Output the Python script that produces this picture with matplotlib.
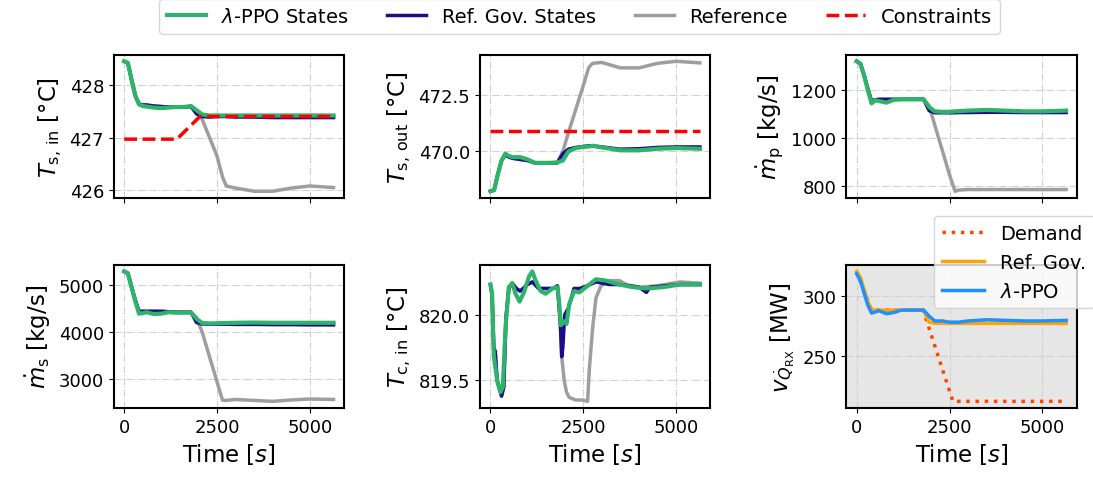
import numpy as np
import matplotlib
matplotlib.use("Agg")
import matplotlib.pyplot as plt
from matplotlib.ticker import MultipleLocator

# shared time grid for most state traces [s]
t = [0, 100, 200, 300, 400, 500, 600, 800, 1000, 1200, 1400, 1600, 1800, 1950,
     2100, 2300, 2500, 2650, 2750, 3000, 3500, 4000, 4500, 5000, 5640]

# T_s,in [C]
tsin_ppo = [428.45, 428.42, 428.1, 427.8, 427.63, 427.6, 427.59, 427.57, 427.56, 427.57, 427.58, 427.58, 427.6,
            427.52, 427.44, 427.42, 427.42, 427.42, 427.42, 427.42, 427.42, 427.42, 427.42, 427.42, 427.42]
tsin_rg = [428.45, 428.42, 428.1, 427.8, 427.64, 427.62, 427.62, 427.6, 427.59, 427.58, 427.58, 427.58, 427.59,
           427.45, 427.4, 427.39, 427.4, 427.4, 427.4, 427.39, 427.39, 427.38, 427.38, 427.38, 427.38]
tsin_ref = [428.45, 428.42, 428.1, 427.8, 427.64, 427.62, 427.62, 427.6, 427.59, 427.58, 427.58, 427.58, 427.59,
            427.5, 427.35, 427.0, 426.65, 426.25, 426.08, 426.04, 425.98, 425.98, 426.04, 426.08, 426.05]
tsin_con_t = [0, 1420, 2040, 5640]
tsin_con = [426.97, 426.97, 427.4, 427.4]

# T_s,out [C]
tsout_ppo = [468.25, 468.3, 469.0, 469.6, 469.9, 469.8, 469.75, 469.75, 469.65, 469.5, 469.5, 469.5, 469.52,
             469.6, 470.0, 470.15, 470.2, 470.22, 470.25, 470.18, 470.05, 470.05, 470.12, 470.15, 470.12]
tsout_rg = [468.25, 468.3, 469.0, 469.6, 469.85, 469.75, 469.7, 469.65, 469.6, 469.5, 469.5, 469.5, 469.5,
            469.9, 470.1, 470.18, 470.22, 470.25, 470.25, 470.2, 470.1, 470.12, 470.18, 470.2, 470.2]
tsout_ref = [468.25, 468.3, 469.0, 469.6, 469.85, 469.75, 469.7, 469.65, 469.6, 469.5, 469.5, 469.5, 469.5,
             470.0, 470.83, 471.86, 472.9, 473.7, 473.88, 473.92, 473.68, 473.68, 473.88, 473.97, 473.9]
tsout_con_t = [0, 5640]
tsout_con = [470.92, 470.92]

# m_p [kg/s]
mp_ppo = [1320, 1310, 1260, 1200, 1145, 1158, 1155, 1148, 1160, 1162, 1162, 1162, 1162,
          1130, 1112, 1110, 1110, 1112, 1113, 1115, 1118, 1115, 1112, 1112, 1115]
mp_rg = [1320, 1310, 1262, 1205, 1155, 1160, 1162, 1162, 1162, 1162, 1162, 1162, 1162,
         1115, 1106, 1106, 1106, 1106, 1107, 1107, 1108, 1108, 1107, 1107, 1107]
mp_ref = [1320, 1310, 1262, 1205, 1155, 1160, 1162, 1162, 1162, 1162, 1162, 1162, 1162,
          1134, 1056, 952, 848, 780, 785, 787, 787, 787, 787, 787, 787]

# m_s [kg/s]
ms_ppo = [5290, 5250, 4950, 4650, 4390, 4400, 4420, 4380, 4390, 4420, 4410, 4410, 4410,
          4280, 4190, 4180, 4185, 4190, 4190, 4195, 4200, 4195, 4195, 4195, 4195]
ms_rg = [5290, 5250, 4960, 4680, 4440, 4440, 4440, 4440, 4440, 4430, 4420, 4420, 4420,
         4200, 4170, 4165, 4165, 4165, 4165, 4160, 4160, 4155, 4155, 4150, 4150]
ms_ref = [5290, 5250, 4960, 4680, 4440, 4440, 4440, 4440, 4440, 4430, 4420, 4420, 4420,
          4300, 4000, 3470, 2940, 2545, 2540, 2560, 2540, 2520, 2550, 2570, 2560]

# T_c,in [C] (own time grids, more detail)
tc_t_ppo = [0, 45, 90, 180, 270, 334, 406, 496, 587, 677, 785, 903, 1038, 1128, 1218, 1354, 1489, 1670,
            1805, 1850, 1895, 1986, 2049, 2121, 2256, 2392, 2572, 2843, 3114, 3475, 3836, 4197, 4648, 5099, 5640]
tc_ppo = [820.23, 820.16, 819.69, 819.5, 819.41, 819.45, 819.9, 820.21, 820.24, 820.16, 820.1, 820.17, 820.29,
          820.33, 820.26, 820.18, 820.16, 820.2, 820.21, 820.1, 819.92, 819.95, 819.93, 820.08, 820.18, 820.17,
          820.21, 820.27, 820.26, 820.23, 820.21, 820.2, 820.21, 820.23, 820.23]
tc_t_rg = [0, 45, 90, 130, 180, 300, 360, 420, 496, 587, 700, 800, 1000, 1130, 1300, 1500, 1700, 1805,
           1880, 1920, 1950, 2000, 2100, 2250, 2400, 2600, 2850, 3200, 3500, 4000, 4200, 4300, 4700, 5100, 5640]
tc_rg = [820.23, 820.15, 819.75, 819.72, 819.5, 819.38, 819.45, 819.98, 820.2, 820.24, 820.2, 820.18, 820.23,
         820.25, 820.2, 820.2, 820.2, 820.22, 819.95, 819.68, 819.75, 820.0, 820.05, 820.2, 820.2, 820.22,
         820.25, 820.23, 820.23, 820.21, 820.17, 820.21, 820.22, 820.23, 820.23]
tc_t_ref = [0, 45, 90, 130, 180, 300, 360, 420, 496, 587, 700, 800, 1000, 1130, 1300, 1500, 1700, 1805,
            1880, 1920, 1986, 2049, 2121, 2301, 2482, 2617, 2662, 2753, 2843, 2978, 3204, 3475, 3655, 4000,
            4500, 5100, 5640]
tc_ref = [820.23, 820.15, 819.75, 819.72, 819.5, 819.38, 819.45, 819.98, 820.2, 820.24, 820.2, 820.18, 820.23,
          820.25, 820.2, 820.2, 820.2, 820.22, 819.95, 819.68, 819.5, 819.41, 819.37, 819.35, 819.35, 819.34,
          819.58, 819.9, 820.13, 820.22, 820.26, 820.26, 820.23, 820.21, 820.22, 820.25, 820.24]

# reactor power [MW]
q_rg = [320, 315, 305, 295, 288, 288, 288, 288, 288, 288, 288, 288, 288,
        278, 277, 277, 277, 277, 277, 277, 277, 277, 277, 277, 277]
q_ppo = [318, 312, 302, 292, 285.5, 286.5, 287.5, 285, 286, 288, 288, 288, 288,
         283, 279, 279, 278, 278, 278, 279, 280, 279.5, 279, 279, 279.5]
q_dem_t = [0, 400, 1790, 2590, 5640]
q_dem = [320, 288, 288, 212.5, 212.5]

c_ppo = "#2db36a"
c_rg = "#1c0d8c"
c_ref = "#9e9e9e"
lw = 2.5

plt.rcParams["mathtext.fontset"] = "dejavusans"

fig, axes = plt.subplots(2, 3, figsize=(10.93, 4.81), dpi=100, sharex="col")
fig.subplots_adjust(left=0.104, right=0.985, top=0.884, bottom=0.150, wspace=0.59, hspace=0.47)

state_panels = [
    (axes[0, 0], t, tsin_ppo, t, tsin_rg, t, tsin_ref, r"$T_{\mathrm{s,\,in}}$ [°C]", (tsin_con_t, tsin_con)),
    (axes[0, 1], t, tsout_ppo, t, tsout_rg, t, tsout_ref, r"$T_{\mathrm{s,\,out}}$ [°C]", (tsout_con_t, tsout_con)),
    (axes[0, 2], t, mp_ppo, t, mp_rg, t, mp_ref, r"$\dot{m}_{\mathrm{p}}$ [kg/s]", None),
    (axes[1, 0], t, ms_ppo, t, ms_rg, t, ms_ref, r"$\dot{m}_{\mathrm{s}}$ [kg/s]", None),
    (axes[1, 1], tc_t_ppo, tc_ppo, tc_t_rg, tc_rg, tc_t_ref, tc_ref, r"$T_{\mathrm{c,\,in}}$ [°C]", None),
]

for ax, tp, yp, tr, yr, tf, yf, lab, con in state_panels:
    h_ref, = ax.plot(tf, yf, color=c_ref, lw=lw, label="Reference")
    h_rg, = ax.plot(tr, yr, color=c_rg, lw=lw, label="Ref. Gov. States")
    h_ppo, = ax.plot(tp, yp, color=c_ppo, lw=lw + 0.5, label=r"$\lambda$-PPO States")
    if con is not None:
        h_con, = ax.plot(con[0], con[1], color="red", lw=lw, ls="--", label="Constraints")
    ax.set_ylabel(lab, fontsize=16.5)

axes[0, 1].yaxis.set_major_locator(MultipleLocator(2.5))

ax = axes[1, 2]
ax.set_facecolor("#e6e6e6")
ax.plot(q_dem_t, q_dem, color="orangered", lw=2.5, ls=":", label="Demand")
ax.plot(t, q_rg, color="orange", lw=lw, label="Ref. Gov.")
ax.plot(t, q_ppo, color="dodgerblue", lw=lw, label=r"$\lambda$-PPO")
ax.set_ylabel(r"$v_{\dot{Q}_{\mathrm{RX}}}$ [MW]", fontsize=16.5)
ax.legend(loc="upper right", bbox_to_anchor=(1.075, 1.34), borderaxespad=0, fontsize=14,
          handlelength=2.2)

for ax in axes.flat:
    ax.grid(True, ls="-.", color="#d0d0d0", lw=0.8)
    ax.set_axisbelow(True)
    ax.tick_params(labelsize=13)
    for s in ax.spines.values():
        s.set_linewidth(1.5)
    ax.set_xticks([0, 2500, 5000])
for ax in axes[1]:
    ax.set_xlabel("Time [$s$]", fontsize=16.5)

fig.legend(handles=[h_ppo, h_rg, h_ref, h_con], loc="upper center", bbox_to_anchor=(0.53, 1.02),
           ncol=4, fontsize=14, columnspacing=2.0, handlelength=2.0)

fig.savefig("out.png", dpi=100)
